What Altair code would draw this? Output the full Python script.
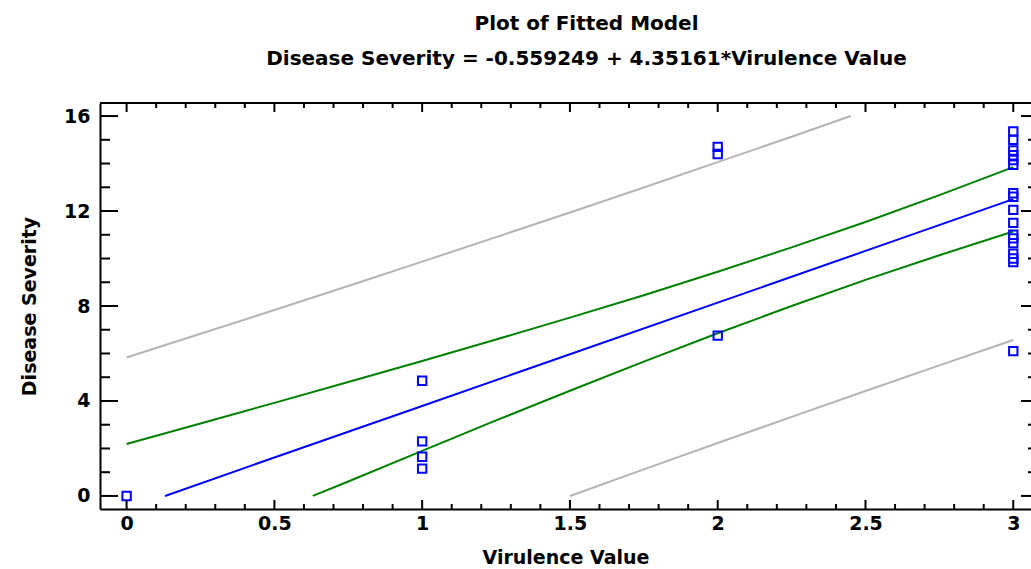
import altair as alt
import pandas as pd

# ---------------- data ----------------
obs_x = [0, 1, 1, 1, 1, 2, 2, 2,
         3, 3, 3, 3, 3, 3, 3, 3, 3, 3, 3, 3, 3, 3, 3, 3, 3]
obs_y = [0.0, 4.85, 2.3, 1.65, 1.15, 14.7, 14.4, 6.75,
         15.35, 15.0, 14.55, 14.35, 14.15, 13.95, 12.75, 12.6, 12.05,
         11.5, 11.0, 10.85, 10.65, 10.2, 10.0, 9.85, 6.1]

fit_x = [0.13, 0.5, 1.0, 1.5, 2.0, 2.5, 3.0]
fit_y = [0.0, 1.62, 3.79, 5.97, 8.14, 10.32, 12.50]

conf_up_x = [0.0, 0.25, 0.5, 0.75, 1.0, 1.25, 1.5, 1.75, 2.0, 2.25, 2.5, 2.75, 3.0]
conf_up_y = [2.19, 3.05, 3.92, 4.80, 5.68, 6.59, 7.51, 8.45, 9.44, 10.47, 11.54, 12.67, 13.85]

conf_lo_x = [0.63, 0.75, 1.0, 1.25, 1.5, 1.75, 2.0, 2.25, 2.5, 2.75, 3.0]
conf_lo_y = [0.0, 0.61, 1.90, 3.18, 4.43, 5.66, 6.85, 8.00, 9.10, 10.14, 11.14]

pred_up_x = [0.0, 0.25, 0.5, 0.75, 1.0, 1.25, 1.5, 1.75, 2.0, 2.25, 2.45]
pred_up_y = [5.83, 6.83, 7.83, 8.84, 9.87, 10.90, 11.94, 12.99, 14.06, 15.13, 16.0]

pred_lo_x = [1.5, 1.75, 2.0, 2.25, 2.5, 2.75, 3.0]
pred_lo_y = [0.0, 1.12, 2.23, 3.33, 4.42, 5.50, 6.57]

x_major = [0, 0.5, 1, 1.5, 2, 2.5, 3]
x_minor = [0.1, 0.2, 0.3, 0.4, 0.6, 0.7, 0.8, 0.9, 1.1, 1.2, 1.3, 1.4,
           1.6, 1.7, 1.8, 1.9, 2.1, 2.2, 2.3, 2.4, 2.6, 2.7, 2.8, 2.9]
y_major = [0, 4, 8, 12, 16]
y_minor = [1, 2, 3, 5, 6, 7, 9, 10, 11, 13, 14, 15]

title_lines = ["Plot of Fitted Model",
               "Disease Severity = -0.559249 + 4.35161*Virulence Value"]
x_title = "Virulence Value"
y_title = "Disease Severity"

# ---------------- tables ----------------
series = [("pred_up", pred_up_x, pred_up_y), ("pred_lo", pred_lo_x, pred_lo_y),
          ("conf_up", conf_up_x, conf_up_y), ("conf_lo", conf_lo_x, conf_lo_y),
          ("fit", fit_x, fit_y)]
rows = []
for name, xs_, ys_ in series:
    for i, (a, b) in enumerate(zip(xs_, ys_)):
        rows.append({"series": name, "order": i, "x": a, "y": b})
lines_df = pd.DataFrame(rows)
obs_df = pd.DataFrame({"x": obs_x, "y": obs_y})
xmaj = pd.DataFrame({"v": x_major})
xmin = pd.DataFrame({"v": x_minor})
ymaj = pd.DataFrame({"v": y_major})
ymin = pd.DataFrame({"v": y_minor})

W, H = 931, 406
FONT = "DejaVu Sans"
xs = alt.Scale(domain=[-0.09, 3.06], nice=False, zero=False)
ys = alt.Scale(domain=[-0.55, 16.55], nice=False, zero=False)

color_scale = alt.Scale(domain=["pred_up", "pred_lo", "conf_up", "conf_lo", "fit"],
                        range=["#b4b4b4", "#b4b4b4", "#008000", "#008000", "#0000ff"])

lines = alt.Chart(lines_df).mark_line(strokeWidth=2).encode(
    x=alt.X("x:Q", scale=xs, title=x_title,
            axis=alt.Axis(values=x_major, labelExpr="datum.value", ticks=False, tickSize=0,
                          grid=False, domainColor="black", domainWidth=2,
                          labelFont=FONT, labelFontSize=19, labelFontWeight="bold",
                          labelColor="black", labelPadding=5,
                          titleFont=FONT, titleFontSize=19, titleFontWeight="bold",
                          titleColor="black", titlePadding=15)),
    y=alt.Y("y:Q", scale=ys, title=y_title,
            axis=alt.Axis(values=y_major, ticks=False, tickSize=0, grid=False,
                          domainColor="black", domainWidth=2,
                          labelFont=FONT, labelFontSize=19, labelFontWeight="bold",
                          labelColor="black", labelPadding=10,
                          titleFont=FONT, titleFontSize=19, titleFontWeight="bold",
                          titleColor="black", titlePadding=24)),
    color=alt.Color("series:N", scale=color_scale, legend=None),
    detail="series:N",
    order="order:Q",
)

points = alt.Chart(obs_df).mark_point(shape="square", filled=False, size=70,
                                      strokeWidth=2, color="#0000ff", opacity=1).encode(
    x=alt.X("x:Q", scale=xs), y=alt.Y("y:Q", scale=ys))

def rule(df, **enc):
    return alt.Chart(df).mark_rule(color="black", strokeWidth=2).encode(**enc)

ticks = [
    rule(ymaj, y=alt.Y("v:Q", scale=ys), x=alt.value(0), x2=alt.value(18)),
    rule(ymin, y=alt.Y("v:Q", scale=ys), x=alt.value(0), x2=alt.value(10)),
    rule(ymaj, y=alt.Y("v:Q", scale=ys), x=alt.value(W - 10), x2=alt.value(W)),
    rule(ymin, y=alt.Y("v:Q", scale=ys), x=alt.value(W - 3), x2=alt.value(W)),
    rule(xmaj, x=alt.X("v:Q", scale=xs), y=alt.value(H), y2=alt.value(H - 9)),
    rule(xmin, x=alt.X("v:Q", scale=xs), y=alt.value(H), y2=alt.value(H - 5)),
    rule(xmaj, x=alt.X("v:Q", scale=xs), y=alt.value(0), y2=alt.value(9)),
    rule(xmin, x=alt.X("v:Q", scale=xs), y=alt.value(0), y2=alt.value(5)),
    rule(xmaj.head(1), x=alt.value(0), x2=alt.value(W), y=alt.value(0)),
]

chart = alt.layer(lines, points, *ticks).properties(
    width=W, height=H,
    padding={"left": 100, "top": 103, "right": 0, "bottom": 60},
    autosize=alt.AutoSizeParams(type="none"),
    title=alt.TitleParams(text=title_lines, font=FONT, fontSize=20, fontWeight="bold",
                          color="black", anchor="middle", dx=21, offset=33, lineHeight=35),
).configure_view(stroke=None).configure(background="white")

chart.save("out.html", embed_options={"renderer": "svg", "actions": False})
